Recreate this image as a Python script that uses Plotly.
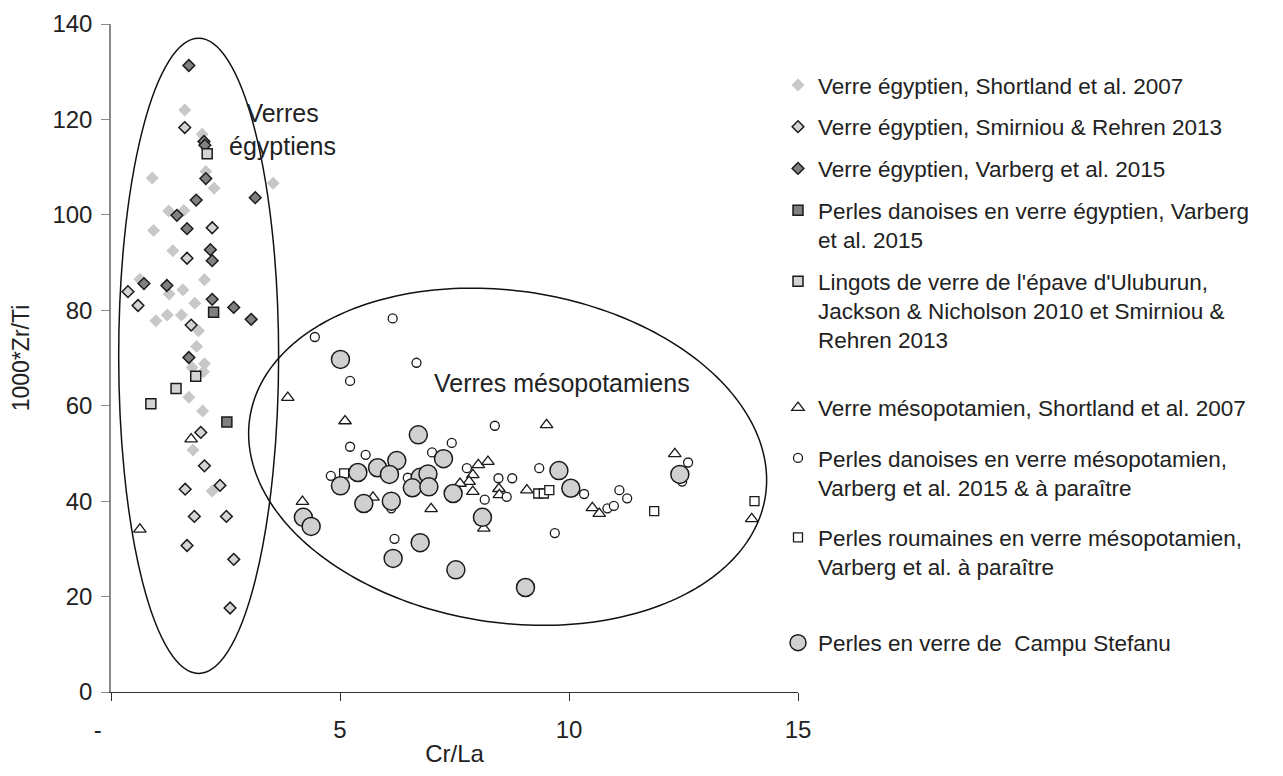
import numpy as np
import plotly.graph_objects as go

# ---------------- data ----------------
eg_shortland_x = [1.61, 1.99, 2.07, 0.90, 2.25, 3.54, 1.26, 1.59, 0.93, 1.35, 0.63, 1.57, 1.27, 2.04,
                  1.83, 0.98, 1.23, 1.54, 1.91, 1.87, 2.04, 1.77, 2.02, 1.70, 2.00, 1.79, 2.21]
eg_shortland_y = [122.0, 116.9, 109.1, 107.7, 105.6, 106.6, 100.8, 100.9, 96.7, 92.5, 86.5, 84.3, 83.4, 86.4,
                  81.5, 77.8, 79.0, 79.0, 75.7, 72.4, 68.8, 68.0, 67.1, 61.8, 58.9, 50.7, 42.1]

eg_smirniou_x = [1.61, 2.21, 1.66, 0.37, 0.59, 1.75, 1.96, 2.04, 1.62, 2.38, 1.82, 2.52, 1.66, 2.68, 2.60]
eg_smirniou_y = [118.3, 97.3, 90.9, 83.9, 81.0, 76.9, 54.4, 47.4, 42.5, 43.3, 36.8, 36.8, 30.7, 27.8, 17.6]

eg_varberg_x = [1.70, 2.03, 2.05, 2.07, 3.15, 1.86, 1.44, 1.66, 2.17, 2.21, 0.72, 1.22, 2.21, 2.68, 3.06, 1.70]
eg_varberg_y = [131.3, 115.4, 114.6, 107.6, 103.6, 103.1, 99.9, 97.1, 92.7, 90.4, 85.6, 85.2, 82.3, 80.6, 78.1, 70.1]

dk_egy_x = [2.24, 2.53]
dk_egy_y = [79.6, 56.6]

ulu_x = [2.10, 1.85, 1.42, 0.87]
ulu_y = [112.8, 66.2, 63.6, 60.4]

meso_shortland_x = [1.75, 0.63, 3.86, 5.11, 4.18, 5.72, 6.99, 8.02, 8.23, 7.90, 7.82, 7.62, 7.90, 8.47,
                    8.48, 9.08, 8.14, 9.51, 10.51, 10.66, 12.31, 13.99]
meso_shortland_y = [53.0, 34.1, 61.7, 56.8, 39.9, 40.8, 38.4, 47.6, 48.3, 45.5, 44.1, 43.7, 42.0, 42.6,
                    41.3, 42.3, 34.3, 56.0, 38.6, 37.4, 49.9, 36.3]

dk_meso_x = [4.45, 6.15, 6.67, 5.22, 8.38, 5.22, 5.56, 7.44, 7.01, 4.80, 6.48, 6.12, 6.19, 7.77, 8.16,
             8.46, 8.76, 8.64, 9.35, 10.33, 10.84, 10.98, 11.10, 11.27, 9.69, 12.60, 12.47]
dk_meso_y = [74.4, 78.3, 69.0, 65.2, 55.8, 51.4, 49.7, 52.2, 50.2, 45.3, 44.9, 38.5, 32.1, 46.9, 40.3,
             44.8, 44.8, 40.9, 46.9, 41.5, 38.5, 39.0, 42.3, 40.6, 33.3, 48.1, 44.1]

ro_meso_x = [5.09, 9.33, 9.45, 9.57, 11.86, 14.05]
ro_meso_y = [45.8, 41.6, 41.6, 42.3, 37.9, 40.0]

campu_x = [5.01, 6.71, 7.26, 6.24, 5.82, 5.39, 6.08, 6.75, 6.92, 5.01, 6.58, 6.94, 7.47, 5.52, 6.12,
           4.20, 4.37, 6.75, 6.16, 7.53, 9.05, 8.11, 9.78, 10.04, 12.42]
campu_y = [69.7, 53.9, 48.9, 48.5, 47.0, 46.0, 45.6, 45.0, 45.7, 43.2, 42.8, 43.0, 41.6, 39.5, 40.0,
           36.6, 34.7, 31.3, 28.0, 25.6, 21.9, 36.6, 46.4, 42.7, 45.6]

names = [
    "Verre égyptien, Shortland et al. 2007",
    "Verre égyptien, Smirniou & Rehren 2013",
    "Verre égyptien, Varberg et al. 2015",
    "Perles danoises en verre égyptien, Varberg<br>et al. 2015",
    "Lingots de verre de l'épave d'Uluburun,<br>Jackson & Nicholson 2010 et Smirniou &<br>Rehren 2013",
    "Verre mésopotamien, Shortland et al. 2007",
    "Perles danoises en verre mésopotamien,<br>Varberg et al. 2015 & à paraître",
    "Perles roumaines en verre mésopotamien,<br>Varberg et al. à paraître",
    "Perles en verre de  Campu Stefanu",
]

x_ticks = [0, 5, 10, 15]
x_ticktext = ["-\u00a0\u00a0\u00a0\u00a0", "5", "10", "15"]

# ---------------- figure ----------------
FONT = "Arial, Liberation Sans, sans-serif"
TXT = "#222222"
fig = go.Figure()


def add(x, y, name, symbol, size, fill, lc, lw, legend):
    fig.add_trace(go.Scatter(
        x=x, y=y, mode="markers", name=name, legendgroup=name, legend=legend,
        marker=dict(symbol=symbol, size=size, color=fill, line=dict(color=lc, width=lw)),
    ))


add(eg_shortland_x, eg_shortland_y, names[0], "diamond", 10, "#c8c8c8", "#c8c8c8", 0, "legend")
add(eg_smirniou_x, eg_smirniou_y, names[1], "diamond", 9, "#d4d4d4", "#1a1a1a", 1.5, "legend")
add(eg_varberg_x, eg_varberg_y, names[2], "diamond", 9, "#808080", "#1a1a1a", 1.5, "legend")
add(dk_egy_x, dk_egy_y, names[3], "square", 10, "#808080", "#1a1a1a", 1.5, "legend")
add(ulu_x, ulu_y, names[4], "square", 10, "#d4d4d4", "#1a1a1a", 1.5, "legend")
add(meso_shortland_x, meso_shortland_y, names[5], "triangle-up", 11, "#ffffff", "#1a1a1a", 1.3, "legend2")
add(dk_meso_x, dk_meso_y, names[6], "circle", 9, "#ffffff", "#1a1a1a", 1.3, "legend2")
add(ro_meso_x, ro_meso_y, names[7], "square", 9, "#ffffff", "#1a1a1a", 1.3, "legend2")
add(campu_x, campu_y, names[8], "circle", 18, "#d0d0d0", "#1a1a1a", 1.5, "legend3")

# ellipses (annotation outlines)
t = np.linspace(0, 2 * np.pi, 241)
ecx, ecy, eA, eH, eshear = 8.66, 49.3, 5.655, 35.0, -0.86
ex = ecx + eA * np.cos(t)
ey = ecy + eshear * eA * np.cos(t) + eH * np.sin(t)
path = "M " + " L ".join(f"{a:.4f},{b:.4f}" for a, b in zip(ex, ey)) + " Z"

shapes = [
    dict(type="circle", xref="x", yref="y", x0=0.168, x1=3.66, y0=3.9, y1=137.0,
         line=dict(color="#111111", width=1.5), layer="below"),
    dict(type="path", xref="x", yref="y", path=path,
         line=dict(color="#111111", width=1.5), layer="below"),
]

annotations = [
    dict(x=3.75, y=117.9, xref="x", yref="y", text="Verres<br>égyptiens", showarrow=False,
         align="center", font=dict(size=25, color=TXT, family=FONT)),
    dict(x=9.84, y=64.8, xref="x", yref="y", text="Verres mésopotamiens", showarrow=False,
         font=dict(size=25, color=TXT, family=FONT)),
]

leg_common = dict(xref="container", yref="container", xanchor="left", yanchor="top",
                  valign="top", bgcolor="rgba(0,0,0,0)", itemsizing="trace",
                  font=dict(size=22.5, color=TXT, family=FONT))

# the page body adds an 8 px offset, so margins are trimmed by 8 px on the left/top
fig.update_layout(
    width=1283, height=776,
    margin=dict(l=103, r=493, t=16, b=92, autoexpand=False),
    paper_bgcolor="white", plot_bgcolor="white",
    font=dict(family=FONT, color=TXT, size=24),
    showlegend=True,
    legend=dict(x=770 / 1283, y=1 - 55.8 / 776, tracegroupgap=9.5, **leg_common),
    legend2=dict(x=770 / 1283, y=1 - 378.5 / 776, tracegroupgap=18, **leg_common),
    legend3=dict(x=770 / 1283, y=1 - 613.5 / 776, tracegroupgap=0, **leg_common),
    xaxis=dict(range=[0, 15], tickvals=x_ticks, ticktext=x_ticktext, ticks="outside", ticklen=8,
               tickcolor="#333333", showline=True, linecolor="#333333", linewidth=1,
               showgrid=False, zeroline=False, ticklabelstandoff=8,
               tickfont=dict(size=24, color=TXT),
               title=dict(text="Cr/La", font=dict(size=24, color=TXT), standoff=3)),
    yaxis=dict(range=[0, 140], dtick=20, ticks="outside", ticklen=8, tickcolor="#888888",
               showline=True, linecolor="#888888", linewidth=1.5, showgrid=False, zeroline=False,
               ticklabelstandoff=4, tickfont=dict(size=24, color=TXT),
               title=dict(text="1000*Zr/Ti", font=dict(size=23, color=TXT), standoff=16)),
    shapes=shapes,
    annotations=annotations,
    hovermode="closest",
)

fig.write_html("out.html")
